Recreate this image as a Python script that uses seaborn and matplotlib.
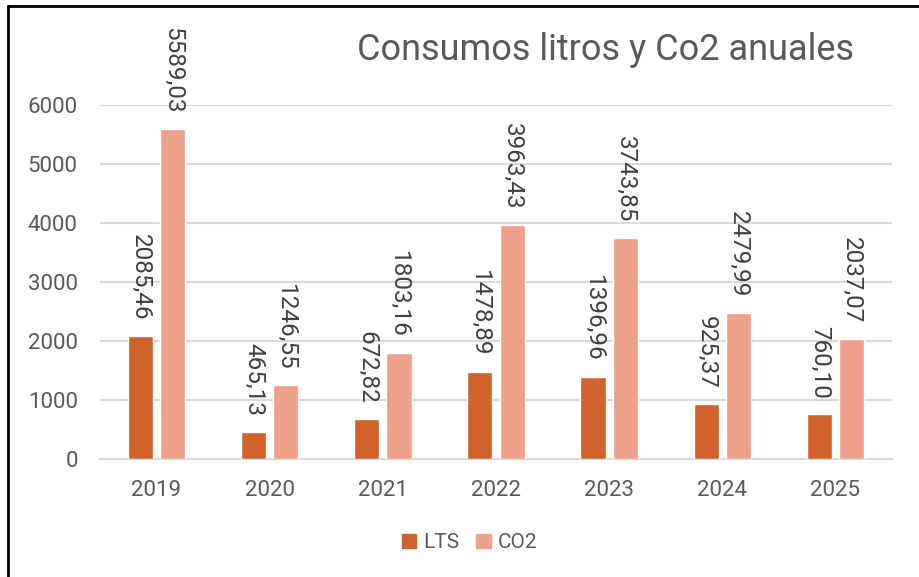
import matplotlib
matplotlib.use("Agg")
import matplotlib.pyplot as plt
import matplotlib.lines as mlines
import seaborn as sns
import pandas as pd

# Data
years = ["2019", "2020", "2021", "2022", "2023", "2024", "2025"]
lts = [2085.46, 465.13, 672.82, 1478.89, 1396.96, 925.37, 760.10]
co2 = [5589.03, 1246.55, 1803.16, 3963.43, 3743.85, 2479.99, 2037.07]
series_names = ["LTS", "CO2"]
y_ticks = [0, 1000, 2000, 3000, 4000, 5000, 6000]
title = "Consumos litros y Co2 anuales"

colors = ["#D0622B", "#EFA08A"]
text_gray = "#595959"
grid_gray = "#D9D9D9"

sns.set_theme(style="white")
plt.rcParams["font.family"] = ["Roboto", "DejaVu Sans"]

df = pd.DataFrame({
    "year": years * 2,
    "value": lts + co2,
    "serie": [series_names[0]] * len(years) + [series_names[1]] * len(years),
})

fig = plt.figure(figsize=(9.19, 5.77), dpi=100)
ax = fig.add_axes([0.1088, 0.2045, 0.8618, 0.6135])

sns.barplot(data=df, x="year", y="value", hue="serie", palette=colors,
            width=0.57, gap=0.22, saturation=1, ax=ax, legend=False,
            errorbar=None, zorder=3)

ax.set_ylim(0, 6000)
ax.set_yticks(y_ticks)
ax.set_xlim(-0.5, len(years) - 0.5)
ax.yaxis.grid(True, color=grid_gray, linewidth=1.5, zorder=0)
ax.set_axisbelow(True)
for side in ["top", "right", "left"]:
    ax.spines[side].set_visible(False)
ax.spines["bottom"].set_color(grid_gray)
ax.spines["bottom"].set_linewidth(1.5)
ax.tick_params(axis="both", length=0, labelsize=16, labelcolor=text_gray)
ax.tick_params(axis="x", pad=15)
ax.tick_params(axis="y", pad=16)
ax.set_xlabel("")
ax.set_ylabel("")

# value labels, rotated, above each bar
for container in ax.containers:
    for bar in container:
        h = bar.get_height()
        ax.annotate(f"{h:.2f}".replace(".", ","),
                    xy=(bar.get_x() + bar.get_width() / 2, h),
                    xytext=(0, 11), textcoords="offset points",
                    rotation=-90, ha="center", va="bottom",
                    fontsize=17.5, color="#404040", annotation_clip=False)

fig.text(0.659, 0.913, title, ha="center", va="center",
         fontsize=26, color=text_gray)

handles = [plt.Rectangle((0, 0), 1, 1, color=c) for c in colors]
fig.legend(handles, series_names, loc="center", bbox_to_anchor=(0.511, 0.059),
           ncol=2, frameon=False, fontsize=15, handlelength=0.7,
           handleheight=0.7, handletextpad=0.35, columnspacing=0.8,
           labelcolor=text_gray)

# outer frame lines (top and left) like the screenshot
fig.add_artist(mlines.Line2D([8 / 919, 1], [1 - 6 / 577, 1 - 6 / 577],
                             color="black", linewidth=2, transform=fig.transFigure))
fig.add_artist(mlines.Line2D([8 / 919, 8 / 919], [0, 1 - 6 / 577],
                             color="black", linewidth=2, transform=fig.transFigure))

fig.savefig("out.png", dpi=100, facecolor="white")
